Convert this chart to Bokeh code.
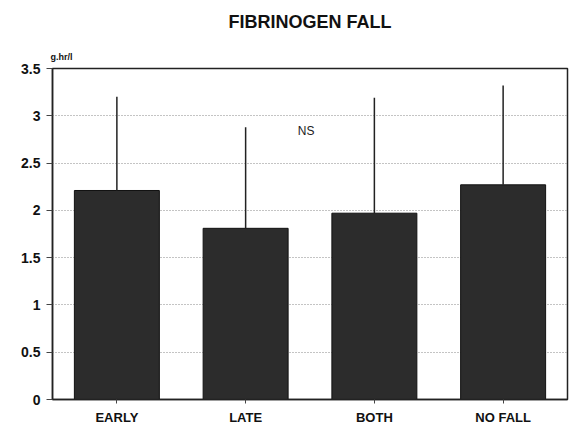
from bokeh.plotting import figure
from bokeh.models import ColumnDataSource, FactorRange, Range1d, Label, FixedTicker, Title
from bokeh.embed import file_html
from bokeh.resources import INLINE

categories = ["EARLY", "LATE", "BOTH", "NO FALL"]
means = [2.21, 1.81, 1.97, 2.27]
upper = [3.20, 2.88, 3.19, 3.32]
y_ticks = [0, 0.5, 1, 1.5, 2, 2.5, 3, 3.5]

src = ColumnDataSource(dict(cat=categories, mean=means, upper=upper))

FONT = "Liberation Sans"

p = figure(x_range=FactorRange(*categories, range_padding=0),
           y_range=Range1d(0, 3.5),
           width=570, height=430,
           frame_width=515, frame_height=331,
           min_border_left=52, min_border_top=68, min_border_right=3, min_border_bottom=31,
           output_backend="svg", toolbar_location=None)

p.vbar(x="cat", top="mean", width=0.66, source=src,
       fill_color="#2c2c2c", line_color="#111111", line_width=1)
p.segment(x0="cat", y0="mean", x1="cat", y1="upper", source=src,
          line_color="#222222", line_width=1.5)

p.outline_line_color = "#222222"
p.outline_line_width = 1.5

p.xgrid.grid_line_color = None
p.ygrid.ticker = FixedTicker(ticks=y_ticks)
p.ygrid.grid_line_color = "#888888"
p.ygrid.grid_line_dash = "1 2"
p.ygrid.grid_line_width = 1

p.yaxis.ticker = FixedTicker(ticks=y_ticks)
p.yaxis.major_label_text_font = FONT
p.yaxis.major_label_text_font_style = "bold"
p.yaxis.major_label_text_font_size = "14px"
p.yaxis.major_label_text_color = "#111111"
p.yaxis.major_tick_out = 6
p.yaxis.major_tick_in = 0
p.yaxis.minor_tick_out = 0
p.yaxis.minor_tick_in = 0
p.yaxis.axis_line_width = 1.5
p.yaxis.axis_line_color = "#222222"
p.yaxis.major_tick_line_color = "#444444"
p.yaxis.major_label_standoff = 6

p.xaxis.major_label_text_font = FONT
p.xaxis.major_label_text_font_style = "bold"
p.xaxis.major_label_text_font_size = "13px"
p.xaxis.major_label_text_color = "#111111"
p.xaxis.major_tick_out = 4
p.xaxis.major_tick_in = 0
p.xaxis.axis_line_width = 1.5
p.xaxis.axis_line_color = "#222222"
p.xaxis.major_tick_line_color = "#444444"
p.xaxis.major_label_standoff = 6

# stacked above the frame: unit label nearest, then a spacer, then the main title
p.add_layout(Title(text="g.hr/l", align="left", offset=-2, standoff=13,
                   text_font=FONT, text_font_style="bold", text_font_size="9px",
                   text_color="#111111"), "above")
p.add_layout(Title(text=" ", align="left", standoff=1,
                   text_font=FONT, text_font_size="1px", text_color="#ffffff"), "above")
p.add_layout(Title(text="FIBRINOGEN FALL", align="center", standoff=16,
                   text_font=FONT, text_font_style="bold", text_font_size="18px",
                   text_color="#111111"), "above")

p.add_layout(Label(x=1.97, y=2.84, text="NS", text_align="center",
                   text_baseline="middle", text_font=FONT,
                   text_font_size="12px", text_color="#222222"))

open("out.html", "w").write(file_html(p, INLINE))
